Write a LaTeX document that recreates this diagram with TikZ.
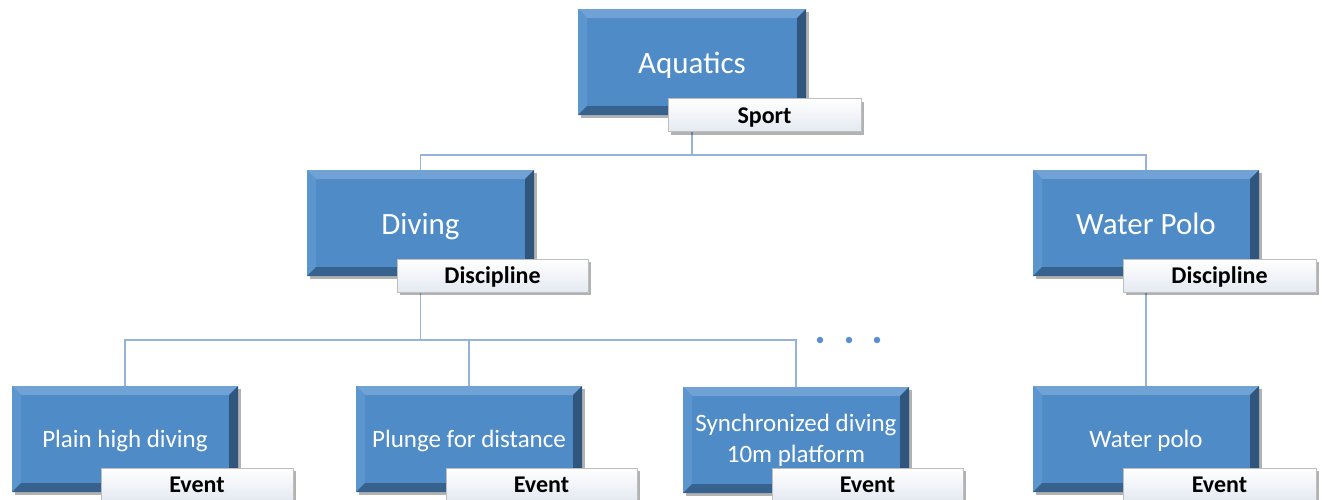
\documentclass[tikz,border=0pt]{standalone}
\usepackage{fontspec}
\setmainfont{Carlito}
\usetikzlibrary{shadows,backgrounds}
\definecolor{bmain}{RGB}{79,139,198}
\definecolor{btop}{RGB}{112,162,214}
\definecolor{bleft}{RGB}{92,150,206}
\definecolor{bright}{RGB}{48,86,126}
\definecolor{bbot}{RGB}{56,98,142}
\definecolor{lblbot}{RGB}{228,233,241}
\definecolor{lblline}{RGB}{190,190,190}
\definecolor{conn}{RGB}{149,179,215}
\definecolor{dotc}{RGB}{91,143,208}
\tikzset{
  bevbox/.style={draw=none, fill=bmain, minimum width=227pt, minimum height=106pt,
    inner sep=0pt, text=white, align=center,
    drop shadow={shadow xshift=2.5pt, shadow yshift=-3pt, opacity=0.3, fill=black},
    path picture={
      \path (path picture bounding box.north west) coordinate (pnw)
            (path picture bounding box.north east) coordinate (pne)
            (path picture bounding box.south west) coordinate (psw)
            (path picture bounding box.south east) coordinate (pse);
      \fill[btop] (pnw) -- (pne) -- ([shift={(-9pt,-9pt)}]pne) -- ([shift={(9pt,-9pt)}]pnw) -- cycle;
      \fill[bleft] (pnw) -- ([shift={(9pt,-9pt)}]pnw) -- ([shift={(9pt,9pt)}]psw) -- (psw) -- cycle;
      \fill[bright] (pne) -- (pse) -- ([shift={(-9pt,9pt)}]pse) -- ([shift={(-9pt,-9pt)}]pne) -- cycle;
      \fill[bbot] (psw) -- ([shift={(9pt,9pt)}]psw) -- ([shift={(-9pt,9pt)}]pse) -- (pse) -- cycle;
    }},
  bigtxt/.style={font=\fontsize{31}{37}\selectfont, text height=28pt, text depth=6pt},
  evtxt/.style={font=\fontsize{25}{31}\selectfont},
  evone/.style={text height=22pt, text depth=6pt},
  lbl/.style={draw=lblline, line width=0.8pt, top color=white, bottom color=lblbot,
    minimum width=193pt, minimum height=33pt, inner sep=0pt,
    font=\bfseries\fontsize{24}{28}\selectfont, text=black,
    text height=20pt, text depth=4pt,
    drop shadow={shadow xshift=3pt, shadow yshift=-3pt, opacity=0.3, fill=black}},
  conline/.style={draw=conn, line width=1.5pt},
  dotmark/.style={circle, fill=dotc, inner sep=0pt, minimum size=6.5pt}
}
\begin{document}
\begin{tikzpicture}[x=1pt,y=1pt]
\useasboundingbox (0,0) rectangle (1322,-499);
\clip (0,0) rectangle (1322,-499);
% level 1
\node[bevbox, bigtxt, minimum width=228pt] (aq) at (692,-62) {Aquatics};
\node[lbl] (sport) at (764.5,-115) {Sport};
% level 2
\node[bevbox, bigtxt] (div) at (420.5,-223) {Diving};
\node[lbl, minimum width=191pt] (disc1) at (492.5,-275.5) {Discipline};
\node[bevbox, bigtxt, minimum width=226pt] (wp) at (1146,-223) {Water Polo};
\node[lbl] (disc2) at (1219.5,-275.5) {Discipline};
% level 3
\node[bevbox, evtxt, evone, minimum width=226pt] (phd) at (125,-439) {Plain high diving};
\node[lbl, minimum width=192pt] (ev1) at (197,-484.5) {Event};
\node[bevbox, evtxt, evone, minimum width=226pt] (plg) at (469,-439) {Plunge for distance};
\node[lbl, minimum width=191pt] (ev2) at (541.5,-484.5) {Event};
\node[bevbox, evtxt, minimum width=226pt] (syn) at (796,-440) {Synchronized diving\\10m platform};
\node[lbl, minimum width=191pt] (ev3) at (867.5,-484.5) {Event};
\node[bevbox, evtxt, evone, minimum width=226pt] (wpe) at (1146,-439) {Water polo};
\node[lbl] (ev4) at (1219.5,-484.5) {Event};
% dots
\node[dotmark] (d1) at (820,-340) {};
\node[dotmark] (d2) at (849,-340) {};
\node[dotmark] (d3) at (877,-340) {};
% connectors
\begin{scope}[on background layer]
\draw[conline] (aq.south) -- ++(0,-40) coordinate (hub1) -| (div.north);
\draw[conline] (hub1) -| (wp.north);
\draw[conline] (div.south) -- ++(0,-64) coordinate (hub2) -| (phd.north);
\draw[conline] (hub2) -| (plg.north);
\draw[conline] (hub2) -| (syn.north);
\draw[conline] (wp.south) -- (wpe.north);
\end{scope}
\end{tikzpicture}
\end{document}
